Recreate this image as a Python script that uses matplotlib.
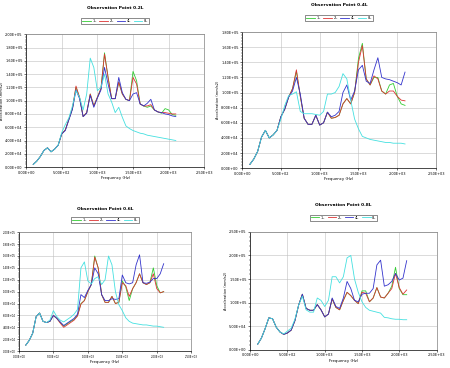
import matplotlib.pyplot as plt
import numpy as np
from matplotlib.ticker import MultipleLocator, FuncFormatter

# frequency grid (Hz), shared by all panels
freq = list(range(100, 2101, 50))

series_names = ['1L', '2L', '4L', '8L']
colors = ['#33cc33', '#dd3333', '#3333cc', '#44e0e0']

# ---- Observation point 0.2L (values in 1e5 mm/s2)
p1_1L = [0.04, 0.09, 0.16, 0.25, 0.29, 0.23, 0.27, 0.33, 0.50, 0.56, 0.72, 0.88, 1.20, 1.05, 0.76, 0.82,
         1.10, 0.92, 1.05, 1.18, 1.72, 1.35, 1.03, 1.03, 1.28, 1.10, 1.02, 1.00, 1.44, 1.30, 0.95, 0.92,
         0.90, 0.92, 0.86, 0.83, 0.81, 0.88, 0.86, 0.79, 0.78]
p1_2L = [0.04, 0.09, 0.16, 0.25, 0.29, 0.23, 0.27, 0.33, 0.50, 0.56, 0.72, 0.88, 1.22, 1.05, 0.76, 0.82,
         1.10, 0.92, 1.05, 1.18, 1.70, 1.35, 1.03, 1.03, 1.28, 1.10, 1.02, 1.00, 1.35, 1.25, 0.95, 0.92,
         0.92, 0.94, 0.86, 0.83, 0.82, 0.82, 0.81, 0.80, 0.80]
p1_4L = [0.04, 0.09, 0.16, 0.25, 0.29, 0.23, 0.27, 0.33, 0.50, 0.55, 0.71, 0.87, 1.16, 1.03, 0.76, 0.81,
         1.08, 0.90, 1.04, 1.16, 1.50, 1.25, 1.03, 1.03, 1.35, 1.12, 1.02, 1.00, 1.10, 1.12, 0.95, 0.92,
         0.96, 1.02, 0.86, 0.83, 0.82, 0.80, 0.79, 0.77, 0.76]
p1_8L = [0.04, 0.09, 0.16, 0.25, 0.29, 0.23, 0.27, 0.33, 0.52, 0.64, 0.74, 0.92, 1.15, 1.05, 0.86, 1.10,
         1.64, 1.50, 1.15, 1.20, 1.40, 1.10, 0.98, 0.82, 0.90, 0.75, 0.62, 0.58, 0.55, 0.53, 0.51, 0.50,
         0.48, 0.47, 0.46, 0.45, 0.44, 0.43, 0.42, 0.41, 0.40]

# ---- Observation point 0.4L
p2_1L = [0.05, 0.12, 0.22, 0.41, 0.50, 0.40, 0.44, 0.50, 0.68, 0.78, 0.94, 1.05, 1.28, 0.95, 0.66, 0.58,
         0.58, 0.70, 0.57, 0.60, 0.74, 0.66, 0.67, 0.70, 0.85, 0.92, 0.85, 1.00, 1.45, 1.65, 1.18, 1.10,
         1.20, 1.20, 1.02, 0.98, 1.10, 1.12, 0.95, 0.85, 0.83]
p2_2L = [0.05, 0.12, 0.22, 0.41, 0.50, 0.40, 0.44, 0.50, 0.68, 0.78, 0.94, 1.05, 1.30, 0.95, 0.66, 0.58,
         0.58, 0.70, 0.57, 0.60, 0.74, 0.66, 0.67, 0.70, 0.85, 0.92, 0.85, 1.00, 1.40, 1.62, 1.18, 1.10,
         1.22, 1.18, 1.02, 0.98, 1.02, 1.02, 0.95, 0.90, 0.89]
p2_4L = [0.05, 0.12, 0.22, 0.41, 0.50, 0.40, 0.44, 0.50, 0.68, 0.78, 0.94, 1.02, 1.20, 0.98, 0.66, 0.58,
         0.58, 0.70, 0.57, 0.60, 0.74, 0.68, 0.70, 0.75, 1.00, 1.10, 0.90, 1.02, 1.30, 1.36, 1.15, 1.12,
         1.30, 1.46, 1.20, 1.18, 1.17, 1.15, 1.13, 1.10, 1.27]
p2_8L = [0.05, 0.12, 0.22, 0.41, 0.50, 0.40, 0.44, 0.50, 0.65, 0.83, 0.96, 0.98, 1.01, 0.75, 0.72, 0.72,
         0.72, 0.71, 0.70, 0.75, 0.98, 0.98, 1.00, 1.08, 1.25, 1.18, 0.90, 0.65, 0.52, 0.42, 0.40, 0.38,
         0.37, 0.36, 0.35, 0.34, 0.34, 0.33, 0.33, 0.33, 0.32]

# ---- Observation point 0.6L
p3_1L = [0.10, 0.18, 0.30, 0.58, 0.64, 0.50, 0.48, 0.50, 0.60, 0.55, 0.48, 0.42, 0.46, 0.50, 0.53, 0.60,
         0.80, 0.85, 1.00, 1.12, 1.60, 1.40, 0.95, 0.82, 0.82, 0.92, 0.80, 0.82, 1.18, 1.08, 0.85, 1.05,
         1.15, 1.30, 1.15, 1.12, 1.15, 1.40, 1.10, 0.98, 1.00]
p3_2L = [0.10, 0.18, 0.30, 0.58, 0.64, 0.50, 0.48, 0.50, 0.60, 0.55, 0.47, 0.40, 0.44, 0.48, 0.52, 0.59,
         0.79, 0.85, 1.00, 1.12, 1.58, 1.40, 0.95, 0.82, 0.82, 0.92, 0.80, 0.82, 1.15, 1.10, 0.92, 1.05,
         1.15, 1.30, 1.15, 1.12, 1.15, 1.30, 1.05, 0.98, 1.00]
p3_4L = [0.10, 0.18, 0.30, 0.58, 0.64, 0.50, 0.48, 0.50, 0.60, 0.55, 0.49, 0.43, 0.47, 0.51, 0.55, 0.62,
         0.95, 0.90, 1.02, 1.12, 1.40, 1.30, 0.95, 0.85, 0.85, 0.88, 0.87, 0.88, 1.28, 1.15, 1.13, 1.15,
         1.45, 1.62, 1.15, 1.14, 1.16, 1.22, 1.22, 1.30, 1.47]
p3_8L = [0.10, 0.18, 0.30, 0.58, 0.64, 0.50, 0.48, 0.52, 0.68, 0.58, 0.52, 0.49, 0.53, 0.57, 0.62, 0.70,
         1.40, 1.50, 1.18, 1.13, 1.22, 1.25, 1.12, 1.20, 1.60, 1.45, 1.00, 0.78, 0.68, 0.56, 0.50, 0.47,
         0.46, 0.45, 0.44, 0.44, 0.43, 0.42, 0.42, 0.41, 0.40]

# ---- Observation point 0.8L
p4_1L = [0.12, 0.25, 0.45, 0.68, 0.66, 0.48, 0.38, 0.33, 0.36, 0.42, 0.62, 0.95, 1.18, 0.88, 0.84, 0.84,
         0.96, 0.85, 0.70, 0.76, 1.08, 0.90, 0.85, 1.05, 1.22, 1.15, 1.05, 0.98, 1.25, 1.25, 1.02, 1.10,
         1.32, 1.12, 1.10, 1.20, 1.35, 1.75, 1.30, 1.17, 1.17]
p4_2L = [0.12, 0.25, 0.45, 0.68, 0.66, 0.48, 0.38, 0.33, 0.36, 0.42, 0.62, 0.95, 1.18, 0.88, 0.84, 0.84,
         0.96, 0.85, 0.70, 0.76, 1.08, 0.90, 0.85, 1.05, 1.22, 1.15, 1.05, 0.98, 1.22, 1.20, 1.02, 1.10,
         1.32, 1.12, 1.10, 1.20, 1.30, 1.62, 1.32, 1.18, 1.27]
p4_4L = [0.12, 0.25, 0.45, 0.68, 0.66, 0.48, 0.38, 0.33, 0.36, 0.42, 0.62, 0.95, 1.18, 0.88, 0.84, 0.84,
         0.96, 0.85, 0.70, 0.76, 1.10, 0.92, 0.88, 1.10, 1.45, 1.30, 1.05, 1.02, 1.18, 1.20, 1.20, 1.30,
         1.80, 1.90, 1.35, 1.38, 1.45, 1.62, 1.48, 1.52, 1.89]
p4_8L = [0.12, 0.25, 0.45, 0.68, 0.66, 0.48, 0.38, 0.34, 0.40, 0.46, 0.65, 0.95, 1.14, 0.85, 0.80, 0.80,
         1.10, 1.05, 0.92, 1.05, 1.55, 1.55, 1.42, 1.55, 1.95, 2.00, 1.50, 1.22, 1.02, 0.90, 0.84, 0.82,
         0.80, 0.78, 0.69, 0.68, 0.66, 0.65, 0.65, 0.64, 0.64]

SCALE = 1e5

panels = [
    dict(title='Observation Point 0.2L', data=[p1_1L, p1_2L, p1_4L, p1_8L], ymax=2.0, ystep=0.2,
         rect=[0.058, 0.546, 0.396, 0.361], leg_y=1.10, title_y=1.19, fs=2.5, ylab=True),
    dict(title='Observation Point 0.4L', data=[p2_1L, p2_2L, p2_4L, p2_8L], ymax=1.8, ystep=0.2,
         rect=[0.538, 0.543, 0.431, 0.370], leg_y=1.10, title_y=1.19, fs=2.5, ylab=True),
    dict(title='Observation Point 0.6L', data=[p3_1L, p3_2L, p3_4L, p3_8L], ymax=2.0, ystep=0.2,
         rect=[0.042, 0.046, 0.383, 0.323], leg_y=1.10, title_y=1.19, fs=1.9, ylab=False),
    dict(title='Observation Point 0.8L', data=[p4_1L, p4_2L, p4_4L, p4_8L], ymax=2.5, ystep=0.5,
         rect=[0.556, 0.049, 0.414, 0.321], leg_y=1.12, title_y=1.22, fs=2.5, ylab=True),
]

fig = plt.figure(figsize=(4.5, 3.68), dpi=100)

sci = FuncFormatter(lambda v, p: '{:.2E}'.format(v))

for pnl in panels:
    ax = fig.add_axes(pnl['rect'])
    for name, vals, c in zip(series_names, pnl['data'], colors):
        ax.plot(freq, np.array(vals) * SCALE, color=c, lw=0.6, label=name)
    ax.set_xlim(0, 2500)
    ax.set_ylim(0, pnl['ymax'] * SCALE)
    ax.xaxis.set_major_locator(MultipleLocator(500))
    ax.yaxis.set_major_locator(MultipleLocator(pnl['ystep'] * SCALE))
    ax.yaxis.set_minor_locator(MultipleLocator(pnl['ystep'] * SCALE / 5))
    ax.xaxis.set_major_formatter(sci)
    ax.yaxis.set_major_formatter(sci)
    ax.tick_params(labelsize=pnl['fs'], length=1.5, width=0.4, pad=1)
    ax.tick_params(which='minor', length=0.8, width=0.3)
    ax.grid(True, color='#c0c0c0', lw=0.4)
    for s in ax.spines.values():
        s.set_color('#808080')
        s.set_linewidth(0.5)
    ax.spines['left'].set_color('black')
    ax.spines['bottom'].set_color('black')
    ax.set_xlabel('Frequency (Hz)', fontsize=2.8, labelpad=1)
    if pnl['ylab']:
        ax.set_ylabel('Acceleration (mm/s2)', fontsize=2.5, labelpad=1)
    ax.set_title(pnl['title'], fontsize=3.2, fontweight='bold', y=pnl['title_y'], pad=0)
    leg = ax.legend(loc='center', bbox_to_anchor=(0.5, pnl['leg_y']), ncol=4, fontsize=2.5,
                    frameon=True, fancybox=False, handlelength=2.5, columnspacing=0.8,
                    handletextpad=0.4, borderpad=0.3)
    leg.get_frame().set_edgecolor('black')
    leg.get_frame().set_linewidth(0.4)

fig.savefig('out.png', dpi=100)
